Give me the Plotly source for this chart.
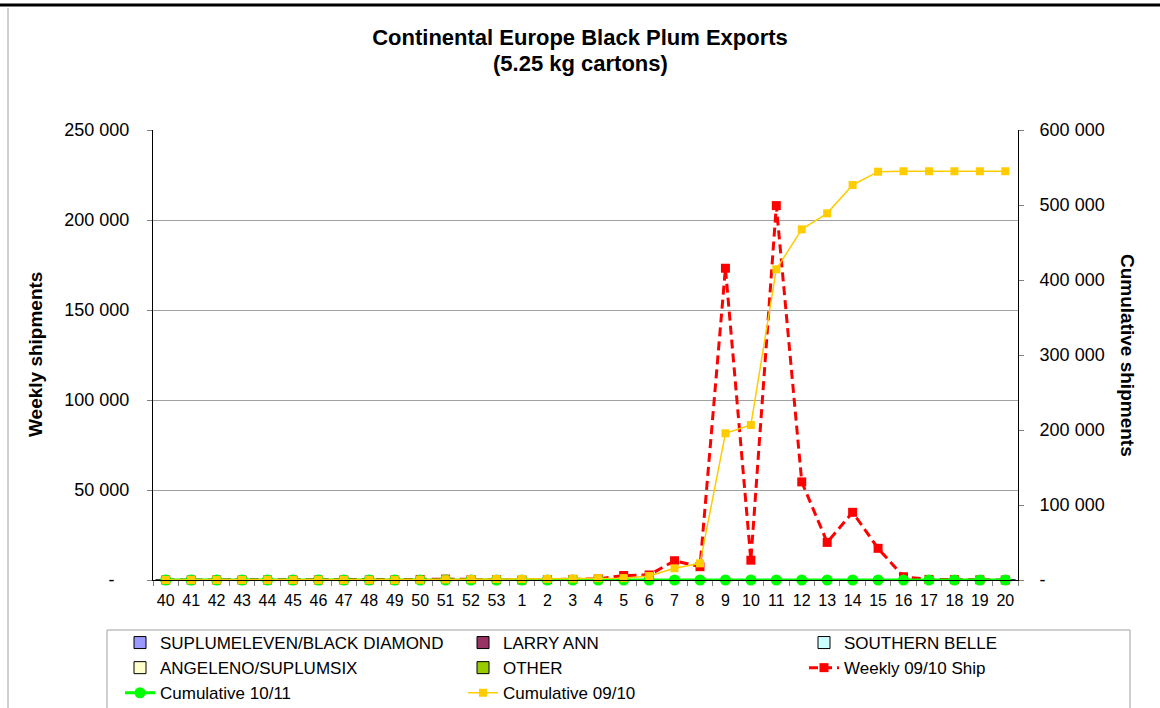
import plotly.graph_objects as go

weeks = [str(w) for w in range(40, 54)] + [str(w) for w in range(1, 21)]

suplumeleven = [0] * 34
larry_ann = [0] * 34
southern_belle = [0] * 34
angeleno = [0] * 34
other = [0] * 34

weekly_0910 = [0, 0, 0, 0, 0, 0, 0, 0, 0, 0, 300, 500, 300, 200,
               0, 200, 300, 600, 2500, 2800, 10700, 7400, 173200, 11000,
               208000, 54500, 20900, 37600, 17600, 1800, 300, 200, 100, 0]

cum_1011 = [0] * 34

cum_0910 = [0, 0, 0, 0, 0, 0, 0, 0, 0, 0, 300, 800, 1100, 1300,
            1300, 1500, 1800, 2400, 2500, 5300, 15600, 22200, 195600, 206700,
            414200, 467500, 488900, 526700, 544400, 545000, 545000, 545000, 545000, 545000]

left_ticks = [0, 50000, 100000, 150000, 200000, 250000]
left_text = ["-\u00a0\u00a0\u00a0", "50 000", "100 000", "150 000", "200 000", "250 000"]
right_ticks = [0, 100000, 200000, 300000, 400000, 500000, 600000]
right_text = ["-", "100 000", "200 000", "300 000", "400 000", "500 000", "600 000"]

FONT = "Liberation Sans, Arial, sans-serif"

fig = go.Figure()

bars = [
    ("SUPLUMELEVEN/BLACK DIAMOND", suplumeleven, "#9999FF", "legend"),
    ("LARRY ANN", larry_ann, "#993366", "legend2"),
    ("SOUTHERN BELLE", southern_belle, "#CCFFFF", "legend3"),
    ("ANGELENO/SUPLUMSIX", angeleno, "#FFFFCC", "legend"),
    ("OTHER", other, "#99CC00", "legend2"),
]
for i, (name, vals, col, lg) in enumerate(bars):
    fig.add_trace(go.Bar(x=weeks, y=vals, name=name, legend=lg, legendgroup=f"g{i}",
                         marker=dict(color=col, line=dict(color="black", width=1))))

fig.add_trace(go.Scatter(x=weeks, y=weekly_0910, name="Weekly 09/10 Ship", mode="lines+markers",
                         legend="legend3", legendgroup="g5",
                         line=dict(color="#FF0000", width=3, dash="9px,5px"), cliponaxis=False,
                         marker=dict(symbol="square", size=9, color="#FF0000")))
fig.add_trace(go.Scatter(x=weeks, y=cum_1011, name="Cumulative 10/11", mode="lines+markers", yaxis="y2",
                         legend="legend", legendgroup="g6",
                         line=dict(color="#00FF00", width=3), cliponaxis=False,
                         marker=dict(symbol="circle", size=11, color="#00FF00")))
fig.add_trace(go.Scatter(x=weeks, y=cum_0910, name="Cumulative 09/10", mode="lines+markers", yaxis="y2",
                         legend="legend2", legendgroup="g7",
                         line=dict(color="#FFCC00", width=1.5), cliponaxis=False,
                         marker=dict(symbol="square", size=8, color="#FFCC00")))

leg_common = dict(orientation="v", xref="container", yref="container", y=1 - 625 / 708,
                  xanchor="left", yanchor="top", borderwidth=0, bgcolor="rgba(0,0,0,0)",
                  font=dict(size=17, family=FONT), traceorder="normal", tracegroupgap=4)

fig.update_layout(
    width=1160, height=708,
    margin=dict(l=153, r=142, t=130, b=128, autoexpand=False),
    paper_bgcolor="white", plot_bgcolor="white",
    font=dict(family=FONT, color="black", size=16),
    barmode="group",
    title=dict(text="<b>Continental Europe Black Plum Exports</b>",
               x=0.5, xref="container", xanchor="center",
               y=1 - 37 / 708, yref="container", yanchor="middle",
               font=dict(family=FONT, size=22, color="black")),
    xaxis=dict(type="category", range=[-0.5, 33.5], showline=True, linecolor="black", linewidth=1,
               ticks="outside", tickson="boundaries", ticklen=5, tickcolor="#808080",
               showgrid=False, tickfont=dict(size=16), ticklabelstandoff=6, tickangle=0,
               automargin=False),
    yaxis=dict(range=[0, 250000], tickvals=left_ticks, ticktext=left_text,
               showline=True, linecolor="black", linewidth=1,
               ticks="outside", ticklen=5, tickcolor="#808080",
               showgrid=True, gridcolor="#A0A0A0", gridwidth=1, zeroline=False,
               tickfont=dict(size=18), ticklabelstandoff=14, automargin=False),
    yaxis2=dict(range=[0, 600000], tickvals=right_ticks, ticktext=right_text, overlaying="y", side="right",
                showline=True, linecolor="black", linewidth=1,
                ticks="outside", ticklen=5, tickcolor="#808080",
                showgrid=False, zeroline=False, tickfont=dict(size=18), ticklabelstandoff=12,
                automargin=False),
    legend=dict(x=120 / 1160, **leg_common),
    legend2=dict(x=463 / 1160, **leg_common),
    legend3=dict(x=804 / 1160, **leg_common),
    showlegend=True,
)

fig.add_annotation(text="<b>(5.25 kg cartons)</b>", xref="paper", yref="paper",
                   x=(580 - 153) / 865, y=(580 - 63) / 450, showarrow=False,
                   font=dict(size=22, family=FONT), xanchor="center", yanchor="middle")
fig.add_annotation(text="<b>Weekly shipments</b>", xref="paper", yref="paper",
                   x=(35 - 153) / 865, y=0.5, textangle=-90, showarrow=False,
                   font=dict(size=19, family=FONT), xanchor="center", yanchor="middle")
fig.add_annotation(text="<b>Cumulative shipments</b>", xref="paper", yref="paper",
                   x=(1128 - 153) / 865, y=0.5, textangle=90, showarrow=False,
                   font=dict(size=19, family=FONT), xanchor="center", yanchor="middle")

# slide rule at top, chart border on the left, legend frame
fig.add_shape(type="line", xref="paper", yref="paper", x0=-153 / 865, x1=(1160 - 153) / 865,
              y0=(580 - 5) / 450, y1=(580 - 5) / 450, line=dict(color="black", width=3))
fig.add_shape(type="line", xref="paper", yref="paper", x0=(8 - 153) / 865, x1=(8 - 153) / 865,
              y0=(580 - 8) / 450, y1=(580 - 720) / 450, line=dict(color="#A0A0A0", width=1))
fig.add_shape(type="rect", xref="paper", yref="paper", x0=(107 - 153) / 865, x1=(1130 - 153) / 865,
              y0=(580 - 630) / 450, y1=(580 - 730) / 450, line=dict(color="#A0A0A0", width=1))

fig.write_html("out.html", post_script="document.body.style.margin='0';",
               config={"displayModeBar": False})
